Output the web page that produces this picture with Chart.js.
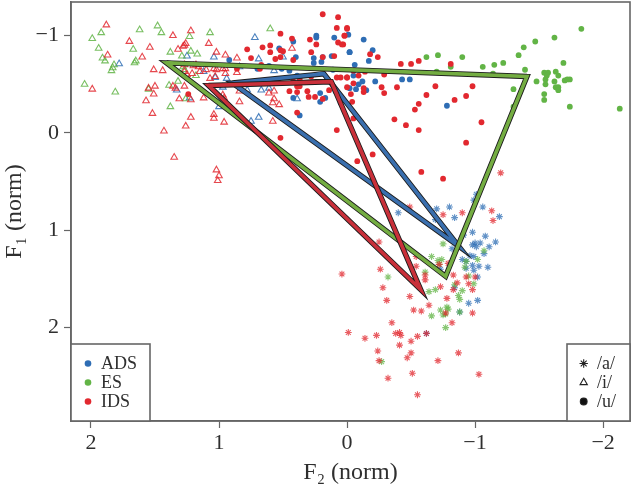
<!DOCTYPE html>
<html>
<head>
<meta charset="utf-8">
<style>
  html, body { margin: 0; padding: 0; background: #fff; }
  canvas { display: block; }
</style>
<script src="https://cdn.jsdelivr.net/npm/chart.js@4/dist/chart.umd.min.js"></script>
</head>
<body>
<canvas id="chart" width="632" height="496"></canvas>
<script>
// [F2, F1] pairs
const idsA = [[-.49,.76],[-.75,.84],[-.90,.82],[-1.13,.80],[-1.14,.90],[-.25,1.12],[.04,1.45],[-.26,1.40],[-.28,1.59],[-.31,1.72],[-.49,1.68],[-.52,1.82],[-.58,1.83],[-.64,1.77],[-.73,1.58],[-.78,1.70],[-.86,1.54],[-.83,1.61],[-.98,1.61],[-.95,1.55],[-.93,1.48],[-1.00,1.48],[-.72,1.35],[-.79,1.34],[-.54,1.37],[-.61,1.51],[-.61,1.46],[-.77,1.85],[-.98,1.85],[-.82,1.95],[-.35,1.95],[-.01,2.05],[-.14,2.11],[-.23,2.08],[-.38,2.06],[-.41,2.05],[-.42,2.08],[-.55,2.09],[-.50,2.14],[-.41,2.18],[-.24,2.24],[-.50,2.26],[-.47,2.31],[-.25,2.34],[-.71,2.34],[-.87,2.26],[-1.03,2.48],[-.51,2.47],[-.32,2.52],[-.55,2.69],[-.62,2.06],[-.83,1.46],[-.54,1.27],[-1.20,.41]];
const adsA = [[-.40,.82],[-.70,.78],[-.80,.76],[-.84,.87],[-1.06,.76],[-.99,.69],[-1.01,.63],[-1.19,.86],[-.98,1.02],[-1.08,1.06],[-1.16,1.12],[-1.11,1.17],[-1.04,1.13],[-1.00,1.13],[-.98,1.15],[-1.01,1.17],[-1.07,1.24],[-.99,1.27],[-.96,1.26],[-.90,1.30],[-.82,1.19],[-.69,.89],[-.93,1.32],[-.93,1.39],[-.98,1.36],[-1.03,1.37],[-1.10,1.38],[-.99,1.41],[-1.02,1.48],[-.73,1.40],[-.84,1.59],[-1.02,1.72],[-.95,1.75],[-.88,1.84],[-.91,1.05],[-.62,2.06]];
const esA = [[-.32,1.48],[-.27,2.35],[-.66,1.27],[-.71,1.31],[-.74,1.30],[-.61,1.43],[-.69,1.61],[-.64,1.63],[-.84,1.56],[-.90,1.62],[-.87,1.67],[-.88,1.71],[-.93,1.32],[-.92,1.38],[-1.02,1.30],[-1.07,1.21],[-.75,1.14],[-.99,1.55],[-.95,1.47],[-.78,1.79],[-.79,1.81],[-.73,1.82],[-.75,1.87],[-.77,1.86],[-.66,1.88],[-.77,2.00],[-.88,1.84],[-.72,1.35]];

const idsI = [[1.88,-1.11],[1.70,-.94],[1.87,-.80],[1.60,-.78],[1.54,-.88],[1.36,-1.00],[1.22,-1.05],[1.32,-.86],[1.27,-.90],[1.26,-.92],[1.08,-.92],[1.02,-.83],[.95,-.80],[.86,-.77],[1.51,-.65],[1.44,-.64],[1.99,-.45],[1.50,-.48],[1.55,-.46],[1.51,-.40],[1.57,-.33],[1.52,-.20],[1.43,-.02],[1.35,.25],[1.26,-.07],[1.22,-.16],[1.04,-.19],[1.04,-.15],[.96,-.11],[1.31,-.35],[1.22,-.34],[1.12,-.36],[1.36,-.48],[1.27,-.48],[1.27,-.70],[1.27,-.63],[1.20,-.69],[1.16,-.68],[1.10,-.65],[1.04,-.66],[1.02,-.65],[.95,-.66],[.86,-.62],[1.07,-.56],[1.03,-.58],[.95,-.61],[.97,-.39],[.96,-.36],[.84,-.32],[.61,-.41],[.57,-.43],[.57,-.35],[.58,-.31],[.53,-.29],[.58,-.12],[1.02,.38],[1.00,.44],[1.01,.49],[1.21,-.61],[1.15,-.63],[1.18,-.70],[.97,-.66],[.84,-.43],[1.25,-.60],[1.34,-.46],[.43,-.87],[1.28,-.89]];
const adsI = [[1.78,-.71],[.72,-.98],[1.04,-.78],[1.25,-.79],[1.33,-.44],[1.23,-.36],[1.00,-.27],[.97,-.47],[.84,-.68],[.78,-.44],[.67,-.44],[.61,-.46],[.57,-.64],[.69,-.16],[.75,-.12],[.39,-.35],[.69,-.76],[1.12,-.63],[1.03,-.57],[.94,-.56],[.50,-.78]];
const esI = [[1.99,-.97],[1.92,-1.03],[1.94,-.87],[1.91,-.77],[1.89,-.74],[1.82,-.70],[1.83,-.67],[1.84,-.64],[1.67,-.86],[1.65,-.74],[1.66,-.72],[1.62,-1.06],[1.48,-1.10],[1.45,-1.03],[1.23,-.99],[1.07,-1.03],[.60,-1.07],[2.05,-.50],[1.81,-.42],[1.38,-.83],[1.22,-.84],[1.17,-.81],[1.29,-.79],[1.28,-.68],[1.27,-.65],[1.18,-.59],[1.55,-.45],[1.39,-.49],[1.32,-.53],[1.26,-.35],[1.38,-.27]];

const adsU = [[.24,-1.00],[.10,-.98],[.24,-.98],[.42,-.94],[.53,-.87],[-.02,-.83],[.40,-.78],[.26,-.77],[.19,-.78],[.12,-.79],[.92,-.75],[.61,-.69],[.51,-.66],[.45,-.64],[.70,-.66],[.11,-.65],[.39,-.59],[.21,-.41],[.42,-.36],[.21,-.32],[.17,-.36],[.37,-.18],[.05,-.31],[.09,-.43],[.54,-.55],[.26,-.72],[.20,-.73],[-.01,-1.01],[-.13,-.96],[-.02,-.83],[-.20,-.85],[-.17,-.74],[-.06,-.70],[-.05,-.59],[-.12,-.53],[-.09,-.50],[-.22,-.53],[-.02,-.46],[-.07,-.45],[-.15,-.44],[-.43,-.55],[-.49,-.55],[-.78,-.28]];
const idsU = [[.19,-1.22],[.07,-1.19],[.08,-1.08],[0,-1.08],[.02,-1.00],[.52,-1.02],[.43,-.97],[.29,-.96],[.24,-.91],[.07,-.93],[.03,-.91],[.78,-.86],[.66,-.88],[.60,-.90],[.52,-.85],[.50,-.84],[.60,-.83],[.52,-.78],[.75,-.77],[.56,-.76],[.42,-.75],[.28,-.83],[.19,-.78],[.10,-.79],[.68,-.66],[.67,-.70],[.86,-.66],[.08,-.57],[.05,-.57],[0,-.57],[.28,-.58],[.37,-.55],[.42,-.53],[.45,-.43],[.39,-.42],[.31,-.43],[.30,-.37],[.25,-.37],[.19,-.35],[.14,-.44],[0,-.47],[.39,-.21],[.08,-.03],[.52,.05],[1.24,-.40],[.39,-.48],[.37,-.48],[0,-1.07],[.02,-1.00],[.04,-.91],[-.18,-.81],[-.24,-.78],[-.42,-.71],[-.50,-.71],[-.56,-.74],[-.81,-.71],[-.29,-.60],[-.14,-.63],[-.05,-.64],[-.09,-.59],[0,-.57],[-.05,-.51],[-.39,-.47],[-.27,-.47],[-.29,-.41],[-.13,-.46],[-.13,-.42],[-.03,-.40],[-.69,-.48],[-.62,-.39],[-.98,-.48],[-.93,-.38],[-.84,-.34],[-.56,-.30],[-.53,-.24],[-.37,-.14],[-.46,-.08],[-.56,-.03],[-1.05,-.11],[-.93,.10],[-.05,-.15],[-.04,-.32],[-.20,.22],[-.08,.29],[-.58,.40],[-.75,.47]];
const esU = [[-.62,-.78],[-.71,-.80],[-.90,-.78],[-1.06,-.68],[-1.15,-.70],[-1.22,-.72],[-1.34,-.80],[-1.38,-.88],[-1.47,-.94],[-1.62,-.98],[-1.83,-1.07],[-1.69,-.72],[-1.39,-.65],[-1.54,-.62],[-1.57,-.62],[-1.63,-.63],[-1.56,-.59],[-1.65,-.59],[-1.55,-.55],[-1.48,-.53],[-1.62,-.53],[-1.55,-.50],[-1.70,-.54],[-1.72,-.55],[-1.74,-.55],[-1.30,-.45],[-1.63,-.47],[-1.65,-.47],[-1.65,-.44],[-1.54,-.40],[-1.54,-.34],[-1.74,-.27],[-2.13,-.25],[-1.30,-.27],[-.81,-.68],[-.70,-.63],[-1.14,-.61]];

// vowel triangles, corners /i/, /u/, /a/
const adsTriangle = [[.895,-.514],[.181,-.608],[-.87,1.16]];
const esTriangle = [[1.409,-.72],[-1.405,-.58],[-.77,1.473]];
const idsTriangle = [[1.082,-.488],[.123,-.527],[-.575,1.61]];

const xTickValues = [2, 1, 0, -1, -2];
const yTickValues = [-1, 0, 1, 2];
const groupNames = ['ADS', 'ES', 'IDS'];
const vowelNames = ['/a/', '/i/', '/u/'];

const BLUE = '#2e6db4', GREEN = '#62b446', RED = '#e2282f';
const STROKE = '#666666', TEXT = '#2f2f2f', SERIF = '"Liberation Serif", serif';

const toPoints = (pairs) => pairs.map(([x, y]) => ({ x, y }));
const tickLabel = (v) => (v < 0 ? '\u2212' + Math.abs(v) : String(v));
const alpha = (hex, a) => hex + Math.round(a * 255).toString(16).padStart(2, '0');

function triangleSets(pairs, colour) {
    // run on past the first corner so that corner gets a proper join too
    const loop = toPoints([...pairs, pairs[0], pairs[1]]);
    const base = { data: loop, showLine: true, pointRadius: 0, tension: 0, borderJoinStyle: 'miter', borderCapStyle: 'butt' };
    return [
        { ...base, borderColor: colour, borderWidth: 3.6 },
        { ...base, borderColor: '#1c1c1c', borderWidth: 5.4 },
    ];
}

function markerSet(pairs, colour, style) {
    const set = { data: toPoints(pairs), showLine: false, pointStyle: style };
    if (style === 'circle') {
        return { ...set, pointRadius: 2.9, pointBackgroundColor: colour, pointBorderWidth: 0 };
    }
    if (style === 'triangle') {
        return { ...set, pointRadius: 3.8, pointBackgroundColor: 'rgba(255,255,255,0)', pointBorderColor: alpha(colour, 0.85), pointBorderWidth: 1.1 };
    }
    return { ...set, pointRadius: 3.4, pointBorderColor: alpha(colour, 0.75), pointBorderWidth: 1.1 };
}

const frameAndKeys = {
    id: 'frameAndKeys',
    afterDraw(chart) {
        const { ctx, chartArea: a } = chart;
        ctx.save();
        ctx.strokeStyle = STROKE;
        ctx.lineWidth = 1.6;
        ctx.strokeRect(a.left, a.top, a.right - a.left, a.bottom - a.top);

        // two key boxes sit in the bottom corners
        const boxTop = 344;
        ctx.fillStyle = '#fff';
        ctx.fillRect(a.left, boxTop, 79, a.bottom - boxTop);
        ctx.strokeRect(a.left, boxTop, 79, a.bottom - boxTop);
        ctx.fillRect(567, boxTop, a.right - 567, a.bottom - boxTop);
        ctx.strokeRect(567, boxTop, a.right - 567, a.bottom - boxTop);

        ctx.textBaseline = 'middle';
        ctx.textAlign = 'left';
        [BLUE, GREEN, RED].forEach((c, i) => {
            const y = 363.5 + i * 19;
            ctx.fillStyle = c;
            ctx.beginPath();
            ctx.arc(88, y, 3.3, 0, Math.PI * 2);
            ctx.fill();
            ctx.fillStyle = TEXT;
            ctx.font = '18px ' + SERIF;
            ctx.fillText(groupNames[i], 101, y + 0.5);
        });
        ['star', 'triangle', 'circle'].forEach((style, i) => {
            const y = 363.5 + i * 19;
            ctx.strokeStyle = '#222';
            ctx.fillStyle = style === 'circle' ? '#111' : '#fff';
            ctx.lineWidth = 1.1;
            Chart.helpers.drawPoint(ctx, { pointStyle: style, radius: style === 'circle' ? 3.4 : 4.2, borderWidth: 1.1 }, 583.7, y);
            ctx.fillStyle = TEXT;
            ctx.font = '18px ' + SERIF;
            ctx.fillText(vowelNames[i], 597, y + 0.5);
        });
        ctx.restore();
    }
};

new Chart(document.getElementById('chart'), {
    type: 'scatter',
    data: {
        datasets: [
            ...triangleSets(idsTriangle, '#c9303a'),
            ...triangleSets(esTriangle, '#74ad42'),
            ...triangleSets(adsTriangle, '#3a6fae'),
            markerSet(idsU, RED, 'circle'),
            markerSet(idsI, RED, 'triangle'),
            markerSet(idsA, RED, 'star'),
            markerSet(esU, GREEN, 'circle'),
            markerSet(esI, GREEN, 'triangle'),
            markerSet(esA, GREEN, 'star'),
            markerSet(adsU, BLUE, 'circle'),
            markerSet(adsI, BLUE, 'triangle'),
            markerSet(adsA, BLUE, 'star'),
        ]
    },
    options: {
        responsive: false,
        animation: false,
        events: [],
        layout: { autoPadding: false, padding: { top: 2, right: 2, left: 0, bottom: 0 } },
        plugins: { legend: { display: false }, tooltip: { enabled: false } },
        scales: {
            x: {
                type: 'linear',
                reverse: true,
                min: -2.21,
                max: 2.156,
                afterBuildTicks: (s) => { s.ticks = xTickValues.map((value) => ({ value })); },
                afterFit: (s) => { s.height = 75; s.paddingLeft = 0; s.paddingRight = 0; },
                grid: { drawOnChartArea: false, color: STROKE, tickLength: 7, tickWidth: 1.2 },
                border: { color: STROKE, width: 1.6 },
                ticks: { color: TEXT, font: { family: SERIF, size: 22 }, maxRotation: 0, padding: 2, callback: tickLabel },
                title: { display: true, text: 'F\u2082 (norm)', color: TEXT, font: { family: SERIF, size: 24 }, padding: { top: 0, bottom: 9 } }
            },
            y: {
                type: 'linear',
                reverse: true,
                min: -1.346,
                max: 2.96,
                afterBuildTicks: (s) => { s.ticks = yTickValues.map((value) => ({ value })); },
                afterFit: (s) => { s.width = 71; s.paddingTop = 0; s.paddingBottom = 0; },
                grid: { drawOnChartArea: false, color: STROKE, tickLength: 7, tickWidth: 1.2 },
                border: { color: STROKE, width: 1.6 },
                ticks: { color: TEXT, font: { family: SERIF, size: 22 }, padding: 5, callback: tickLabel },
                title: { display: true, text: 'F\u2081 (norm)', color: TEXT, font: { family: SERIF, size: 24 }, padding: { top: 0, bottom: 0 } }
            }
        }
    },
    plugins: [frameAndKeys]
});
</script>
</body>
</html>
